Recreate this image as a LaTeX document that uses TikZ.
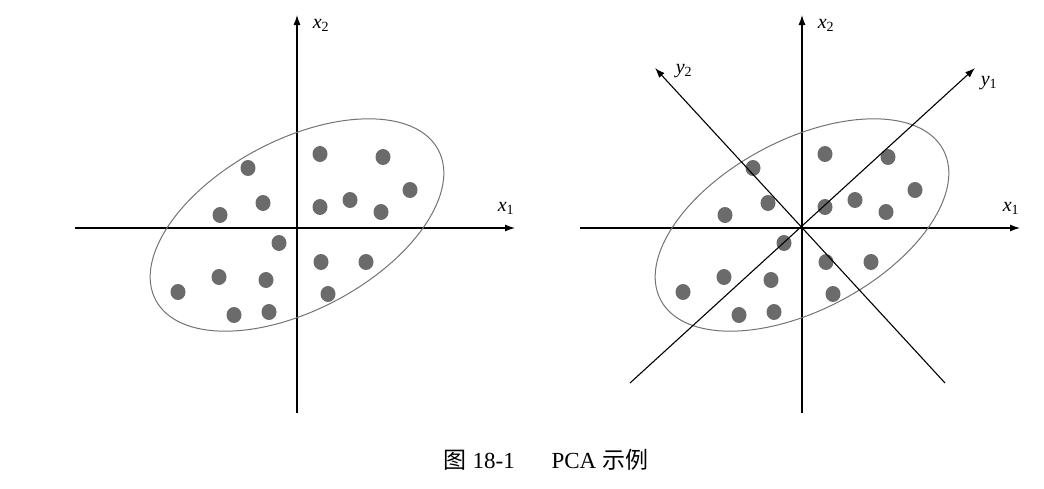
\documentclass[tikz,border=0pt]{standalone}
\usepackage{fontspec}
\setmainfont{Liberation Serif}
\newfontfamily\cjk{Noto Sans CJK SC}
\begin{document}
\begin{tikzpicture}[x=1pt,y=-1pt,
  ax/.style={line width=1.1pt,-{Latex[length=10pt,width=7pt]}},
  dot/.style={fill=black!58,draw=none},
  lab/.style={font=\fontsize{20}{22}\selectfont,inner sep=0pt},
  ell/.style={draw=black!55,line width=1pt}]
\useasboundingbox (0,0) rectangle (1044,488);
\usetikzlibrary{arrows.meta}
\foreach \ox/\p in {0/L,505/R}{
  \begin{scope}[xshift=\ox pt]
  \coordinate (\p xa) at (75,228); \coordinate (\p xb) at (515,228);
  \coordinate (\p ya) at (297,413); \coordinate (\p yb) at (297,15);
  \draw[ax] (\p xa) -- (\p xb);
  \draw[ax] (\p ya) -- (\p yb);
  \node[lab] (\p x1) at (506,208) {\textit{x}\textsubscript{1}};
  \node[lab] (\p x2) at (321,25) {\textit{x}\textsubscript{2}};
  \draw[ell,rotate around={28:(297,225)}] (297,225) ellipse [x radius=160, y radius=85];
  \foreach \x/\y in {248/168,320/154,383/157,410/190,263/203,220/215,320/207,350/200,381/212,279/243,321/262,366/262,178/292,219/277,266/280,328/294,234/315,269/312}
    \fill[dot] (\x,\y) ellipse [x radius=7.5, y radius=8];
  \end{scope}}
\coordinate (y1a) at (630,383); \coordinate (y1b) at (975,68);
\coordinate (y2a) at (945,383); \coordinate (y2b) at (655,68);
\draw[ax] (y1a) -- (y1b);
\draw[ax] (y2a) -- (y2b);
\node[lab] (y1) at (989,83) {\textit{y}\textsubscript{1}};
\node[lab] (y2) at (684,71) {\textit{y}\textsubscript{2}};
\node[font=\fontsize{23}{26}\selectfont,inner sep=0pt] (cap) at (546,460) {{\cjk 图} 18-1\hspace{1.6em}PCA {\cjk 示例}};
\end{tikzpicture}
\end{document}
